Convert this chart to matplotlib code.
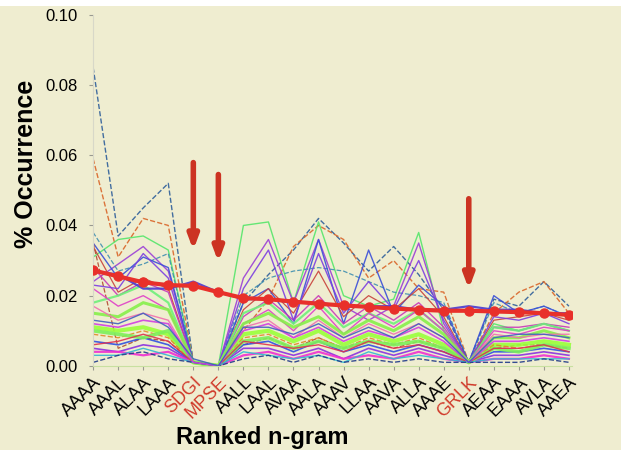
import matplotlib
matplotlib.use("Agg")
import matplotlib.pyplot as plt
from matplotlib.patches import Rectangle
from matplotlib.transforms import ScaledTranslation

plt.rcParams['font.family'] = ['Liberation Sans', 'DejaVu Sans']

# n-grams ordenados
ngramas = ['AAAA', 'AAAL', 'ALAA', 'LAAA', 'SDGI', 'MPSE', 'AALL', 'LAAL', 'AVAA', 'AALA',
           'AAAV', 'LLAA', 'AAVA', 'ALLA', 'AAAE', 'GRLK', 'AEAA', 'EAAA', 'AVLA', 'AAEA']
resaltados = ['SDGI', 'MPSE', 'GRLK']

# serie de referencia (linea roja gruesa)
referencia = [0.0272, 0.0255, 0.0238, 0.0230, 0.0228, 0.0210, 0.0193, 0.0190, 0.0183, 0.0177,
              0.0172, 0.0168, 0.0163, 0.0160, 0.0157, 0.0157, 0.0155, 0.0153, 0.0150, 0.0145]

# series individuales
azul_alto = [0.085, 0.037, 0.045, 0.052, 0.001, 0.000, 0.018, 0.026, 0.033, 0.042,
             0.035, 0.027, 0.034, 0.026, 0.016, 0.001, 0.019, 0.017, 0.024, 0.017]
naranja = [0.059, 0.031, 0.042, 0.040, 0.001, 0.000, 0.010, 0.019, 0.034, 0.040,
           0.036, 0.025, 0.030, 0.022, 0.021, 0.001, 0.015, 0.021, 0.024, 0.015]
verde_claro = [0.031, 0.036, 0.037, 0.033, 0.001, 0.000, 0.040, 0.041, 0.018, 0.041,
               0.020, 0.017, 0.019, 0.038, 0.010, 0.001, 0.012, 0.010, 0.012, 0.010]
morado = [0.024, 0.029, 0.034, 0.027, 0.001, 0.000, 0.025, 0.036, 0.018, 0.036,
          0.017, 0.013, 0.017, 0.035, 0.012, 0.001, 0.011, 0.010, 0.012, 0.010]
turquesa = [0.038, 0.027, 0.029, 0.032, 0.001, 0.000, 0.020, 0.025, 0.027, 0.028,
            0.027, 0.024, 0.021, 0.020, 0.018, 0.001, 0.018, 0.015, 0.017, 0.014]
azul_ref = [0.027, 0.026, 0.022, 0.022, 0.024, 0.021, 0.019, 0.019, 0.018, 0.018,
            0.017, 0.017, 0.017, 0.016, 0.016, 0.017, 0.016, 0.016, 0.015, 0.015]
azul_zigzag = [0.035, 0.025, 0.031, 0.028, 0.001, 0.000, 0.018, 0.022, 0.012, 0.036,
               0.012, 0.033, 0.015, 0.023, 0.017, 0.001, 0.020, 0.015, 0.017, 0.014]
rojo_fino = [0.034, 0.021, 0.025, 0.022, 0.001, 0.000, 0.016, 0.022, 0.015, 0.027,
             0.014, 0.020, 0.016, 0.022, 0.014, 0.001, 0.013, 0.014, 0.015, 0.013]
rojo_caida = [0.035, 0.005, 0.008, 0.007, 0.001, 0.000, 0.006, 0.008, 0.005, 0.008,
              0.005, 0.007, 0.005, 0.007, 0.005, 0.001, 0.005, 0.006, 0.006, 0.005]
magenta_medio = [0.028, 0.020, 0.024, 0.021, 0.001, 0.000, 0.014, 0.019, 0.013, 0.020,
                 0.012, 0.017, 0.013, 0.018, 0.011, 0.001, 0.011, 0.011, 0.012, 0.011]
morado_medio = [0.023, 0.022, 0.032, 0.025, 0.001, 0.000, 0.022, 0.033, 0.013, 0.032,
                0.015, 0.024, 0.016, 0.030, 0.013, 0.001, 0.014, 0.013, 0.015, 0.012]
verde_medio = [0.018, 0.020, 0.023, 0.018, 0.001, 0.000, 0.015, 0.018, 0.012, 0.018,
               0.011, 0.015, 0.012, 0.016, 0.010, 0.001, 0.011, 0.010, 0.012, 0.010]
magenta_1 = [0.022, 0.017, 0.020, 0.016, 0.001, 0.000, 0.012, 0.016, 0.010, 0.017,
             0.009, 0.015, 0.011, 0.016, 0.010, 0.001, 0.010, 0.009, 0.011, 0.010]
verde_grueso_1 = [0.015, 0.014, 0.018, 0.016, 0.001, 0.000, 0.012, 0.015, 0.011, 0.014,
                  0.009, 0.013, 0.010, 0.014, 0.009, 0.001, 0.008, 0.008, 0.010, 0.008]
rosa = [0.017, 0.013, 0.015, 0.013, 0.001, 0.000, 0.011, 0.013, 0.008, 0.013,
        0.008, 0.012, 0.009, 0.012, 0.008, 0.001, 0.009, 0.008, 0.009, 0.009]
verde_grueso_2 = [0.011, 0.010, 0.011, 0.009, 0.001, 0.000, 0.009, 0.010, 0.007, 0.010,
                  0.006, 0.009, 0.007, 0.009, 0.006, 0.001, 0.006, 0.006, 0.007, 0.006]
naranja_bajo = [0.009, 0.008, 0.010, 0.008, 0.001, 0.000, 0.008, 0.009, 0.006, 0.008,
                0.005, 0.008, 0.006, 0.008, 0.005, 0.001, 0.006, 0.005, 0.006, 0.005]
azul_bajo = [0.007, 0.006, 0.008, 0.006, 0.001, 0.000, 0.006, 0.007, 0.004, 0.007,
             0.004, 0.006, 0.004, 0.006, 0.004, 0.001, 0.004, 0.004, 0.005, 0.004]
morado_bajo = [0.005, 0.004, 0.006, 0.005, 0.001, 0.000, 0.005, 0.005, 0.003, 0.005,
               0.002, 0.005, 0.003, 0.005, 0.003, 0.001, 0.003, 0.003, 0.004, 0.003]
magenta_bajo = [0.004, 0.004, 0.003, 0.004, 0.001, 0.000, 0.003, 0.004, 0.002, 0.004,
                0.002, 0.003, 0.002, 0.004, 0.002, 0.001, 0.002, 0.002, 0.003, 0.002]
verde_grueso_3 = [0.010, 0.009, 0.008, 0.010, 0.001, 0.000, 0.007, 0.008, 0.005, 0.007,
                  0.005, 0.007, 0.006, 0.007, 0.005, 0.001, 0.005, 0.004, 0.006, 0.005]
rojo_bajo = [0.006, 0.007, 0.009, 0.007, 0.001, 0.000, 0.007, 0.006, 0.005, 0.006,
             0.004, 0.007, 0.005, 0.006, 0.004, 0.001, 0.005, 0.005, 0.006, 0.004]
cian_bajo = [0.003, 0.003, 0.005, 0.003, 0.001, 0.000, 0.004, 0.003, 0.002, 0.003,
             0.001, 0.004, 0.002, 0.003, 0.002, 0.001, 0.002, 0.002, 0.002, 0.002]
marino_bajo = [0.001, 0.003, 0.004, 0.002, 0.001, 0.000, 0.002, 0.003, 0.001, 0.003,
               0.001, 0.002, 0.001, 0.002, 0.001, 0.001, 0.001, 0.001, 0.002, 0.001]
magenta_2 = [0.012, 0.011, 0.013, 0.012, 0.001, 0.000, 0.010, 0.012, 0.008, 0.011,
             0.007, 0.010, 0.008, 0.011, 0.007, 0.001, 0.007, 0.007, 0.008, 0.007]
azul_2 = [0.013, 0.012, 0.015, 0.011, 0.002, 0.000, 0.011, 0.011, 0.009, 0.012,
          0.008, 0.011, 0.008, 0.012, 0.008, 0.001, 0.008, 0.009, 0.009, 0.008]

series = [
    (azul_alto, '#2f5f9a', '--', 1.0),
    (naranja, '#d9662a', '--', 1.0),
    (verde_claro, '#55e66a', '-', 1.0),
    (morado, '#9b3fd6', '-', 1.0),
    (turquesa, '#3f8fb0', '--', 0.9),
    (azul_zigzag, '#3a4fd8', '-', 1.0),
    (rojo_fino, '#c8403a', '-', 0.9),
    (rojo_caida, '#b04a30', '--', 0.9),
    (magenta_medio, '#c83ab8', '-', 1.0),
    (morado_medio, '#7d3fe0', '-', 1.0),
    (verde_medio, '#6ef07a', '-', 1.6),
    (magenta_1, '#e040c8', '-', 1.0),
    (verde_grueso_1, '#86f04a', '-', 2.2),
    (rosa, '#f070b0', '-', 1.0),
    (verde_grueso_2, '#9aff3a', '-', 3.0),
    (naranja_bajo, '#e08a2a', '--', 1.0),
    (azul_bajo, '#3050e0', '-', 1.2),
    (morado_bajo, '#8a30e0', '-', 1.2),
    (magenta_bajo, '#f030d0', '-', 1.6),
    (verde_grueso_3, '#7cf05a', '-', 2.6),
    (rojo_bajo, '#e03050', '-', 1.0),
    (cian_bajo, '#30b8d0', '-', 1.0),
    (marino_bajo, '#203a8a', '--', 1.0),
    (magenta_2, '#d040e0', '-', 1.2),
    (azul_2, '#4060c0', '-', 1.0),
    (azul_ref, '#4a3ad0', '-', 1.6),
]

# flechas (categoria, valor superior, valor de la punta)
flechas = [('SDGI', 0.0587, 0.0322), ('MPSE', 0.0553, 0.0288), ('GRLK', 0.0484, 0.0211)]

fondo = '#efedd0'
fig = plt.figure(figsize=(6.21, 4.5), dpi=100)
fig.patch.set_facecolor('white')
fig.patches.append(Rectangle((0, 0), 1, 1 - 6 / 450, transform=fig.transFigure,
                             facecolor=fondo, edgecolor='none', zorder=-10))
ax = fig.add_axes([0.150, 0.187, 0.771, 0.780])
ax.set_facecolor(fondo)

x = list(range(len(ngramas)))
for valores, color, estilo, grosor in series:
    ax.plot(x, valores, color=color, linestyle=estilo, linewidth=grosor, alpha=0.9)

ax.plot(x, referencia, color='#e8302a', linewidth=3.0, marker='o', markersize=6.5, zorder=5)

for nombre, arriba, punta in flechas:
    i = ngramas.index(nombre)
    ax.annotate('', xy=(i, punta), xytext=(i, arriba),
                arrowprops=dict(arrowstyle='-|>,head_width=0.3,head_length=0.8',
                                color='#cc3322', lw=4), zorder=6)

ax.set_xlim(0, 19.12)
ax.set_ylim(0, 0.10)
ax.set_yticks([0.00, 0.02, 0.04, 0.06, 0.08, 0.10])
ax.set_yticklabels(['0.00', '0.02', '0.04', '0.06', '0.08', '0.10'], fontsize=12)
ax.set_xticks(x)
ax.set_xticklabels(ngramas, rotation=45, ha='right', va='top', fontsize=13,
                   rotation_mode='anchor')
desplazamiento = ScaledTranslation(-11 / 72, -1 / 72, fig.dpi_scale_trans)
for etiqueta in ax.get_xticklabels():
    etiqueta.set_transform(etiqueta.get_transform() + desplazamiento)
    if etiqueta.get_text() in resaltados:
        etiqueta.set_color('#d03a2a')

for lado in ['top', 'right']:
    ax.spines[lado].set_visible(False)
ax.spines['left'].set_color('#d8d8c8')
ax.spines['bottom'].set_color('#c8e0a0')
ax.tick_params(axis='both', length=3, color='#999990')
ax.tick_params(axis='x', pad=3)
ax.tick_params(axis='y', pad=8)

ax.set_xlabel('Ranked n-gram', fontsize=17, fontweight='bold')
ax.xaxis.set_label_coords(0.354, -0.172)
ax.set_ylabel('% Occurrence', fontsize=18, fontweight='bold')
ax.yaxis.set_label_coords(-0.116, 0.575)

fig.savefig('out.png', dpi=100, facecolor=fig.get_facecolor())
